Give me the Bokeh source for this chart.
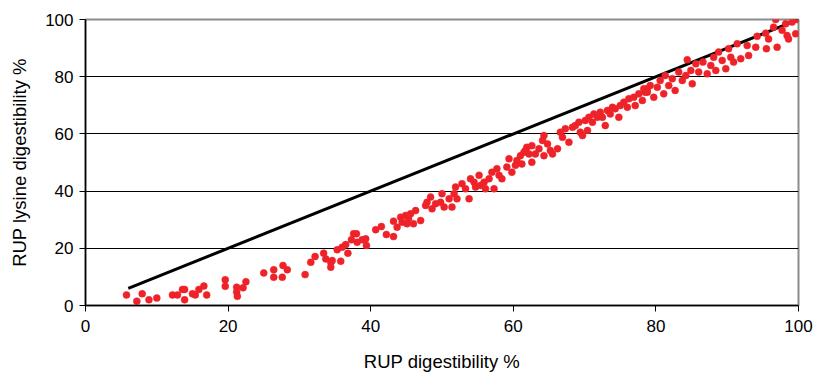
from bokeh.plotting import figure
from bokeh.models import Range1d, FixedTicker
from bokeh.embed import file_html
from bokeh.resources import INLINE

# 1:1 reference line (RUP lysine digestibility = RUP digestibility)
line_x = [6, 100]
line_y = [6, 100]

# Observed samples (RUP digestibility %, RUP lysine digestibility %)
red_x = [5.75, 7.2, 7.95, 8.9, 10.0, 12.2, 12.9, 13.6, 13.9, 13.9, 15.0, 15.4, 15.9, 16.6, 17.0,
         19.6, 19.6, 21.2, 21.2, 21.3, 22.1, 22.5, 25.0,
         26.4, 26.4, 27.6, 27.7, 28.3, 30.8, 31.6, 32.2, 33.4, 33.7, 34.4, 34.4, 34.6, 35.3, 35.8,
         36.0, 36.5, 36.8, 37.3, 37.6, 38.0, 38.1, 38.8, 39.3, 39.4, 40.7, 41.5, 42.2, 43.2, 43.2,
         43.7, 44.2, 44.9, 45.1, 44.4, 45.3,
         45.6, 46.0, 46.3, 47.0, 47.7, 47.9, 48.4, 48.6, 49.1, 49.8, 50.0, 50.3, 51.0, 51.4, 51.7,
         51.9, 52.1, 52.8, 53.3, 53.8, 54.0, 54.5, 54.7, 55.2, 55.4, 55.9, 56.1, 56.6, 57.0, 57.3,
         57.7, 58.0, 58.4, 59.1, 59.4, 59.8, 60.3, 60.5, 61.0, 61.2, 61.7, 62.2,
         61.5, 61.9, 62.6, 62.6, 63.1, 63.6, 64.1, 64.3, 64.3, 64.8, 65.2, 65.5, 66.2, 66.6, 66.9,
         67.3, 67.8, 68.3, 68.7, 69.2, 69.4, 69.7, 70.1, 70.4, 70.6, 71.1, 71.3, 71.8, 72.2, 72.5,
         72.9, 73.2, 73.6, 73.9, 74.3, 74.8, 75.0, 75.5, 76.0, 76.2, 76.9, 77.1, 77.6, 78.1, 78.5,
         78.8,
         78.3, 78.8, 79.2, 79.7, 80.2, 80.6, 81.1, 81.3, 81.8, 82.3, 82.7, 83.2, 83.7, 84.2, 84.4,
         84.9, 85.1, 85.6, 86.0, 86.6, 87.2, 87.7, 88.1, 88.4, 88.8, 89.3, 89.8, 90.2, 90.5, 90.9,
         91.4, 91.9, 92.8, 93.0, 94.0, 94.2, 95.4, 95.5, 95.8, 96.5, 96.8, 97.0, 97.7, 98.2, 98.4,
         98.6, 99.1, 99.6, 99.8]
red_y = [3.7, 1.5, 4.1, 2.0, 2.6, 3.7, 3.7, 5.6, 2.0, 5.6, 4.1, 3.7, 5.6, 6.8, 3.7,
         9.0, 6.7, 6.4, 4.7, 3.2, 6.2, 8.3, 11.4,
         12.5, 9.9, 9.9, 14.0, 12.5, 10.8, 15.1, 17.1, 18.3, 16.3, 15.1, 13.4, 15.7, 19.5, 15.5,
         20.4, 21.3, 18.3, 23.0, 25.1, 25.1, 22.1, 23.0, 23.3, 21.0, 26.5, 27.6, 24.8, 24.1, 29.5,
         27.4, 30.9, 31.5, 28.6, 29.1, 30.4,
         32.1, 28.6, 33.2, 29.7, 35.0, 36.1, 37.9, 33.8, 35.6, 36.1, 39.1, 34.4, 37.3, 34.4, 39.1,
         41.4, 37.3, 42.6, 40.8, 37.3, 44.3, 43.1, 41.4, 45.5, 42.0, 43.1, 40.8, 44.3, 46.6, 40.8,
         47.8, 45.5, 44.3, 48.4, 51.3, 46.6, 49.0, 50.7, 52.4, 49.5, 54.2, 53.0,
         53.6, 55.3, 55.9, 50.1, 53.0, 54.8, 57.7, 59.4, 52.4, 56.5, 54.2, 53.0, 54.8, 60.6, 58.8,
         61.8, 57.1, 62.3, 62.9, 64.1, 60.6, 59.4, 64.7, 61.2, 65.8, 64.1, 67.0, 65.8, 67.6, 65.8,
         62.9, 68.2, 67.0, 69.3, 68.8, 65.8, 69.9, 71.1, 69.3, 72.3, 72.8, 69.9, 74.0, 71.7, 74.6,
         75.8,
         75.8, 74.6, 76.9, 72.8, 76.3, 78.7, 74.0, 80.4, 76.9, 79.3, 75.2, 81.6, 78.7, 80.4, 85.9,
         82.2, 77.5, 84.5, 81.6, 85.1, 81.0, 83.9, 86.8, 82.2, 88.6, 85.7, 82.8, 89.8, 86.8, 85.1,
         91.5, 86.3, 90.9, 87.4, 90.3, 94.1, 95.2, 89.8, 93.2, 97.3, 100.0, 90.3, 96.2, 98.5, 94.4,
         93.2, 99.1, 95.0, 100.0]

ticks = [0, 20, 40, 60, 80, 100]
x_title = "RUP digestibility %"
y_title = "RUP lysine digestibility %"

FONT = "Liberation Sans"

p = figure(width=817, height=375, output_backend="svg", toolbar_location=None,
           x_range=Range1d(0, 100), y_range=Range1d(0, 100),
           min_border_left=85, min_border_right=19, min_border_top=19, min_border_bottom=70)

p.line(line_x, line_y, line_color="black", line_width=3)
p.scatter(red_x, red_y, size=7, fill_color="#ee2229", line_color="#ee2229", line_width=0.5)

p.background_fill_color = "white"
p.border_fill_color = "white"
p.outline_line_color = "#8c8c8c"
p.outline_line_width = 2

p.xgrid.grid_line_color = None
p.ygrid.grid_line_color = "black"
p.ygrid.grid_line_width = 1
p.ygrid.ticker = FixedTicker(ticks=[20, 40, 60, 80])

for ax in (p.xaxis[0], p.yaxis[0]):
    ax.ticker = FixedTicker(ticks=ticks)
    ax.axis_line_color = "black"
    ax.axis_line_width = 1.5
    ax.major_tick_line_color = "black"
    ax.major_tick_line_width = 1
    ax.major_tick_out = 6
    ax.major_tick_in = 0
    ax.minor_tick_line_color = None
    ax.major_label_text_font = FONT
    ax.major_label_text_font_size = "17px"
    ax.major_label_text_color = "black"
    ax.axis_label_text_font = FONT
    ax.axis_label_text_font_size = "18.5px"
    ax.axis_label_text_font_style = "normal"
    ax.axis_label_text_color = "black"

p.xaxis.axis_label = x_title
p.yaxis.axis_label = y_title
p.xaxis.major_label_standoff = 8
p.xaxis.axis_label_standoff = 16
p.yaxis.major_label_standoff = 6
p.yaxis.axis_label_standoff = 12

open("out.html", "w").write(file_html(p, INLINE))
